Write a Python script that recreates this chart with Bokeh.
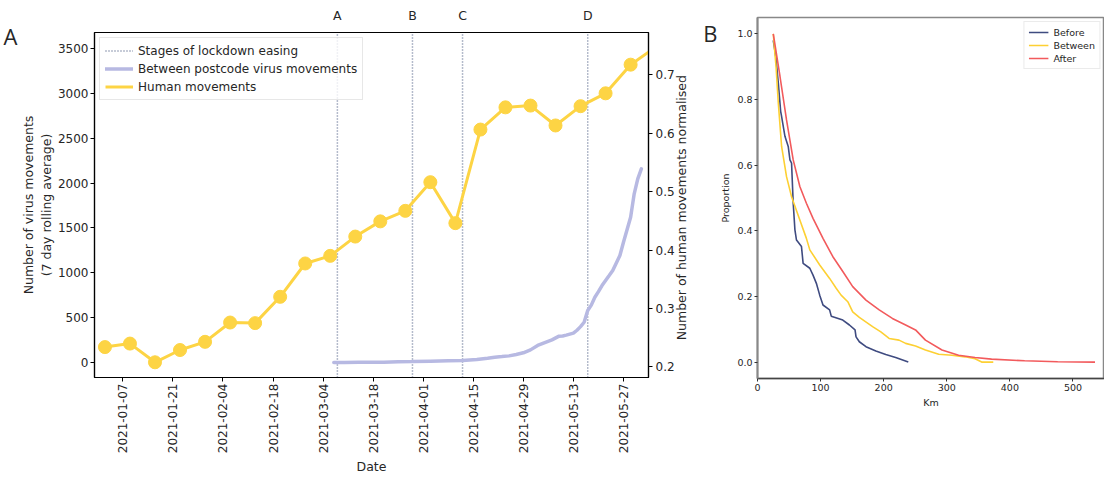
import math
import pandas as pd
from datetime import datetime
from bokeh.plotting import figure
from bokeh.models import (Range1d, LinearAxis, FixedTicker, DatetimeTickFormatter,
                          Legend, LegendItem, NumeralTickFormatter)
from bokeh.layouts import row, column
from bokeh.embed import file_html
from bokeh.resources import INLINE

# ---------------- data: panel A ----------------
human_dates = ["2021-01-02", "2021-01-09", "2021-01-16", "2021-01-23", "2021-01-30",
               "2021-02-06", "2021-02-13", "2021-02-20", "2021-02-27", "2021-03-06",
               "2021-03-13", "2021-03-20", "2021-03-27", "2021-04-03", "2021-04-10",
               "2021-04-17", "2021-04-24", "2021-05-01", "2021-05-08", "2021-05-15",
               "2021-05-22", "2021-05-29", "2021-06-05"]
human_norm = [0.234, 0.240, 0.208, 0.229, 0.243, 0.276, 0.275, 0.320, 0.377, 0.390,
              0.423, 0.449, 0.467, 0.516, 0.446, 0.606, 0.644, 0.647, 0.613, 0.646,
              0.668, 0.717, 0.747]

virus_dates = ["2021-03-07", "2021-03-10", "2021-03-14", "2021-03-18", "2021-03-21",
               "2021-03-25", "2021-03-29", "2021-04-03", "2021-04-08", "2021-04-12",
               "2021-04-16", "2021-04-19", "2021-04-21", "2021-04-23", "2021-04-25",
               "2021-04-27", "2021-04-29", "2021-05-01", "2021-05-03", "2021-05-05",
               "2021-05-07", "2021-05-09", "2021-05-10", "2021-05-11", "2021-05-13",
               "2021-05-14", "2021-05-15", "2021-05-16", "2021-05-17", "2021-05-18",
               "2021-05-19", "2021-05-20", "2021-05-21", "2021-05-22", "2021-05-23",
               "2021-05-24", "2021-05-25", "2021-05-26", "2021-05-27", "2021-05-28",
               "2021-05-29", "2021-05-30", "2021-05-31", "2021-06-01"]
virus_counts = [0, 1, 2, 3, 4, 8, 11, 15, 19, 22, 33, 48, 59, 66, 74, 90, 108, 141, 190,
                222, 253, 294, 296, 305, 327, 360, 400, 449, 580, 640, 728, 790, 858,
                915, 970, 1026, 1110, 1193, 1341, 1480, 1620, 1881, 2048, 2159]

stage_dates = ["2021-03-08", "2021-03-29", "2021-04-12", "2021-05-17"]
stage_labels = ["A", "B", "C", "D"]
date_ticks = ["2021-01-07", "2021-01-21", "2021-02-04", "2021-02-18", "2021-03-04",
              "2021-03-18", "2021-04-01", "2021-04-15", "2021-04-29", "2021-05-13",
              "2021-05-27"]
virus_ticks = [0, 500, 1000, 1500, 2000, 2500, 3000, 3500]
human_ticks = [0.2, 0.3, 0.4, 0.5, 0.6, 0.7]

# ---------------- data: panel B ----------------
before_km = [25, 29, 33, 36.7, 37.7, 43.5, 48.7, 51.4, 54, 56.6, 59.3, 61.8, 69.7, 72.3,
             82.9, 88, 93.3, 98.6, 103.8, 114.3, 116.9, 135.2, 145.7, 154.6, 156.2, 161.4,
             171.9, 187.6, 203.3, 219, 239]
before_prop = [0.98, 0.93, 0.85, 0.764, 0.754, 0.688, 0.657, 0.616, 0.606, 0.484, 0.403,
               0.372, 0.352, 0.301, 0.286, 0.265, 0.240, 0.204, 0.174, 0.159, 0.140, 0.128,
               0.113, 0.098, 0.077, 0.062, 0.047, 0.034, 0.023, 0.014, 0.0]
between_km = [25, 29.4, 33, 38.2, 46, 54, 67.1, 77.5, 82.9, 98.6, 114.3, 124.7, 132.5,
              143.1, 150.9, 161.4, 182.4, 195.5, 208.6, 224.3, 234.8, 250.5, 266.2, 287.2,
              308.2, 329.1, 344.8, 355.3, 373.7]
between_prop = [1.0, 0.90, 0.789, 0.657, 0.565, 0.504, 0.433, 0.377, 0.342, 0.296, 0.255,
                0.225, 0.204, 0.184, 0.153, 0.136, 0.108, 0.092, 0.072, 0.067, 0.057, 0.049,
                0.037, 0.024, 0.021, 0.016, 0.010, 0.0, 0.0]
after_km = [25, 35.6, 46, 56.6, 67.1, 77.5, 88, 103.8, 119.5, 135.2, 150.9, 171.9, 192.9,
            213.8, 234.8, 250.5, 266.2, 292.4, 318.7, 344.8, 371, 423.4, 475.8, 535]
after_prop = [1.0, 0.871, 0.738, 0.616, 0.535, 0.484, 0.438, 0.377, 0.321, 0.276, 0.230,
              0.189, 0.159, 0.133, 0.113, 0.098, 0.067, 0.037, 0.021, 0.014, 0.009, 0.004,
              0.001, 0.0]
km_ticks = [0, 100, 200, 300, 400, 500]
prop_ticks = [0.0, 0.2, 0.4, 0.6, 0.8, 1.0]

panel_letters = ["A", "B"]
right_label = "Number of human movements normalised"

FONT = "DejaVu Sans"
TXT = "#262626"
YELLOW = "#fdd444"
LAVENDER = "#b7b9e2"
DOTS = "#6a7898"


def ms(s):
    return float(pd.Timestamp(s).value // 10**6)


def text_axis(tick, text, standoff, size, font, orientation="horizontal", **kw):
    return LinearAxis(ticker=FixedTicker(ticks=[tick]),
                      major_label_overrides={tick: text},
                      axis_line_color=None, major_tick_line_color=None,
                      minor_tick_line_color=None, major_tick_out=0, major_tick_in=0,
                      major_label_standoff=standoff, major_label_orientation=orientation,
                      major_label_text_font=font, major_label_text_font_size=size,
                      major_label_text_color=TXT, **kw)


# ---------------- panel A ----------------
pA = figure(width=700, height=478, output_backend="svg", toolbar_location=None,
            x_axis_type="datetime",
            x_range=Range1d(datetime(2020, 12, 30, 2), datetime(2021, 6, 3)),
            y_range=Range1d(-167, 3679),
            min_border_left=90, min_border_right=52, min_border_top=32, min_border_bottom=101)
pA.extra_y_ranges = {"human": Range1d(0.182, 0.772)}
pA.xgrid.grid_line_color = None
pA.ygrid.grid_line_color = None
pA.outline_line_color = "black"
pA.outline_line_width = 1.2

ylo, yhi = pA.y_range.start, pA.y_range.end
sx = [pd.Timestamp(d) for d in stage_dates]
r_stage = pA.segment(x0=sx, y0=[ylo] * len(sx), x1=sx, y1=[yhi] * len(sx),
                     line_color=DOTS, line_width=1.5, line_dash="1 2")
r_virus = pA.line(pd.to_datetime(virus_dates), virus_counts, line_color=LAVENDER,
                  line_width=3.5, line_cap="round")
hx = pd.to_datetime(human_dates)
r_human = pA.line(hx, human_norm, y_range_name="human", line_color=YELLOW, line_width=3)
pA.scatter(hx, human_norm, y_range_name="human", size=13, fill_color=YELLOW,
           line_color=YELLOW)

xa = pA.xaxis[0]
xa.ticker = FixedTicker(ticks=[ms(d) for d in date_ticks])
fmt = "%Y-%m-%d"
xa.formatter = DatetimeTickFormatter(days=fmt, months=fmt, years=fmt, hours=fmt,
                                     hourmin=fmt, minutes=fmt, minsec=fmt, seconds=fmt,
                                     milliseconds=fmt, microseconds=fmt)
xa.major_label_orientation = math.pi / 2
xa.axis_label = "Date"

ya = pA.yaxis[0]
ya.ticker = FixedTicker(ticks=virus_ticks)
ya.axis_label = "Number of virus movements\n(7 day rolling average)"

ra = LinearAxis(y_range_name="human", ticker=FixedTicker(ticks=human_ticks))
pA.add_layout(ra, "right")

for ax in [xa, ya, ra]:
    ax.axis_line_color = "black"
    ax.axis_line_width = 1.2
    ax.major_tick_line_color = "black"
    ax.major_tick_out = 4
    ax.major_tick_in = 0
    ax.minor_tick_line_color = None
    ax.major_label_text_font = FONT
    ax.major_label_text_font_size = "12px"
    ax.major_label_text_color = TXT
    ax.axis_label_text_font = FONT
    ax.axis_label_text_font_size = "12.5px"
    ax.axis_label_text_font_style = "normal"
    ax.axis_label_text_color = TXT
    ax.major_label_standoff = 3
    ax.axis_label_standoff = 3
ya.major_label_standoff = 2
ya.axis_label_standoff = 1
xa.major_label_standoff = 2
xa.axis_label_standoff = 3

# right-hand axis title, reading bottom-to-top, starting at 0.2456 on the human scale
pA.add_layout(text_axis(0.2456, right_label, 4, "12.5px", FONT, math.pi / 2,
                        y_range_name="human"), "right")

# stage letters above the frame
stage_ticks = [ms(d) for d in stage_dates]
top_ax = LinearAxis(ticker=FixedTicker(ticks=stage_ticks),
                    major_label_overrides={t: l for t, l in zip(stage_ticks, stage_labels)},
                    axis_line_color=None, major_tick_line_color=None,
                    minor_tick_line_color=None, major_tick_out=0, major_tick_in=0,
                    major_label_standoff=10, major_label_text_font=FONT,
                    major_label_text_font_size="12.5px", major_label_text_color=TXT)
pA.add_layout(top_ax, "above")

# panel letter "A"
pA.add_layout(text_axis(3645, panel_letters[0], 0, "22px", "Open Sans"), "left")

legA = Legend(items=[LegendItem(label="Stages of lockdown easing", renderers=[r_stage]),
                     LegendItem(label="Between postcode virus movements", renderers=[r_virus]),
                     LegendItem(label="Human movements", renderers=[r_human])],
              location="top_left", margin=5, padding=5, spacing=3,
              glyph_width=28, glyph_height=15, label_height=15,
              label_text_font=FONT, label_text_font_size="12px", label_text_color=TXT,
              border_line_color="#d0d0d0", background_fill_alpha=0.8)
pA.add_layout(legA)

# ---------------- panel B ----------------
pB = figure(width=404, height=478, output_backend="svg", toolbar_location=None,
            x_range=Range1d(0, 550), y_range=Range1d(-0.05, 1.05),
            min_border_left=54, min_border_right=0, min_border_top=17, min_border_bottom=100)
pB.xgrid.grid_line_color = None
pB.ygrid.grid_line_color = None
pB.outline_line_color = "#888888"
pB.outline_line_width = 1.5

rb1 = pB.line(before_km, before_prop, line_color="#3f4b80", line_width=1.6)
rb2 = pB.line(between_km, between_prop, line_color="#fdd033", line_width=1.6)
rb3 = pB.line(after_km, after_prop, line_color="#f25a5c", line_width=1.6)

bx = pB.xaxis[0]
bx.ticker = FixedTicker(ticks=km_ticks)
bx.axis_label = "Km"
by = pB.yaxis[0]
by.ticker = FixedTicker(ticks=prop_ticks)
by.formatter = NumeralTickFormatter(format="0.0")
by.axis_label = "Proportion"
for ax in [bx, by]:
    ax.major_tick_line_color = "#333333"
    ax.major_tick_out = 3
    ax.major_tick_in = 0
    ax.minor_tick_line_color = None
    ax.major_label_text_font = FONT
    ax.major_label_text_font_size = "9.5px"
    ax.major_label_text_color = TXT
    ax.axis_label_text_font = FONT
    ax.axis_label_text_font_size = "9.5px"
    ax.axis_label_text_font_style = "normal"
    ax.axis_label_text_color = TXT
    ax.major_label_standoff = 2
    ax.axis_label_standoff = 3
bx.axis_line_color = "#444444"
bx.axis_line_width = 1.5
by.axis_line_color = "#888888"
by.axis_line_width = 2

pB.add_layout(text_axis(1.004, panel_letters[1], 0, "22px", "Open Sans"), "left")

legB = Legend(items=[LegendItem(label="Before", renderers=[rb1]),
                     LegendItem(label="Between", renderers=[rb2]),
                     LegendItem(label="After", renderers=[rb3])],
              location="top_right", margin=4, padding=4, spacing=1,
              glyph_width=20, glyph_height=12, label_height=12,
              label_text_font=FONT, label_text_font_size="9.5px", label_text_color=TXT,
              border_line_color="#d8d8d8", background_fill_alpha=0.8)
pB.add_layout(legB)

layout = row(column(pA), column(pB))
open("out.html", "w").write(file_html(layout, INLINE))
